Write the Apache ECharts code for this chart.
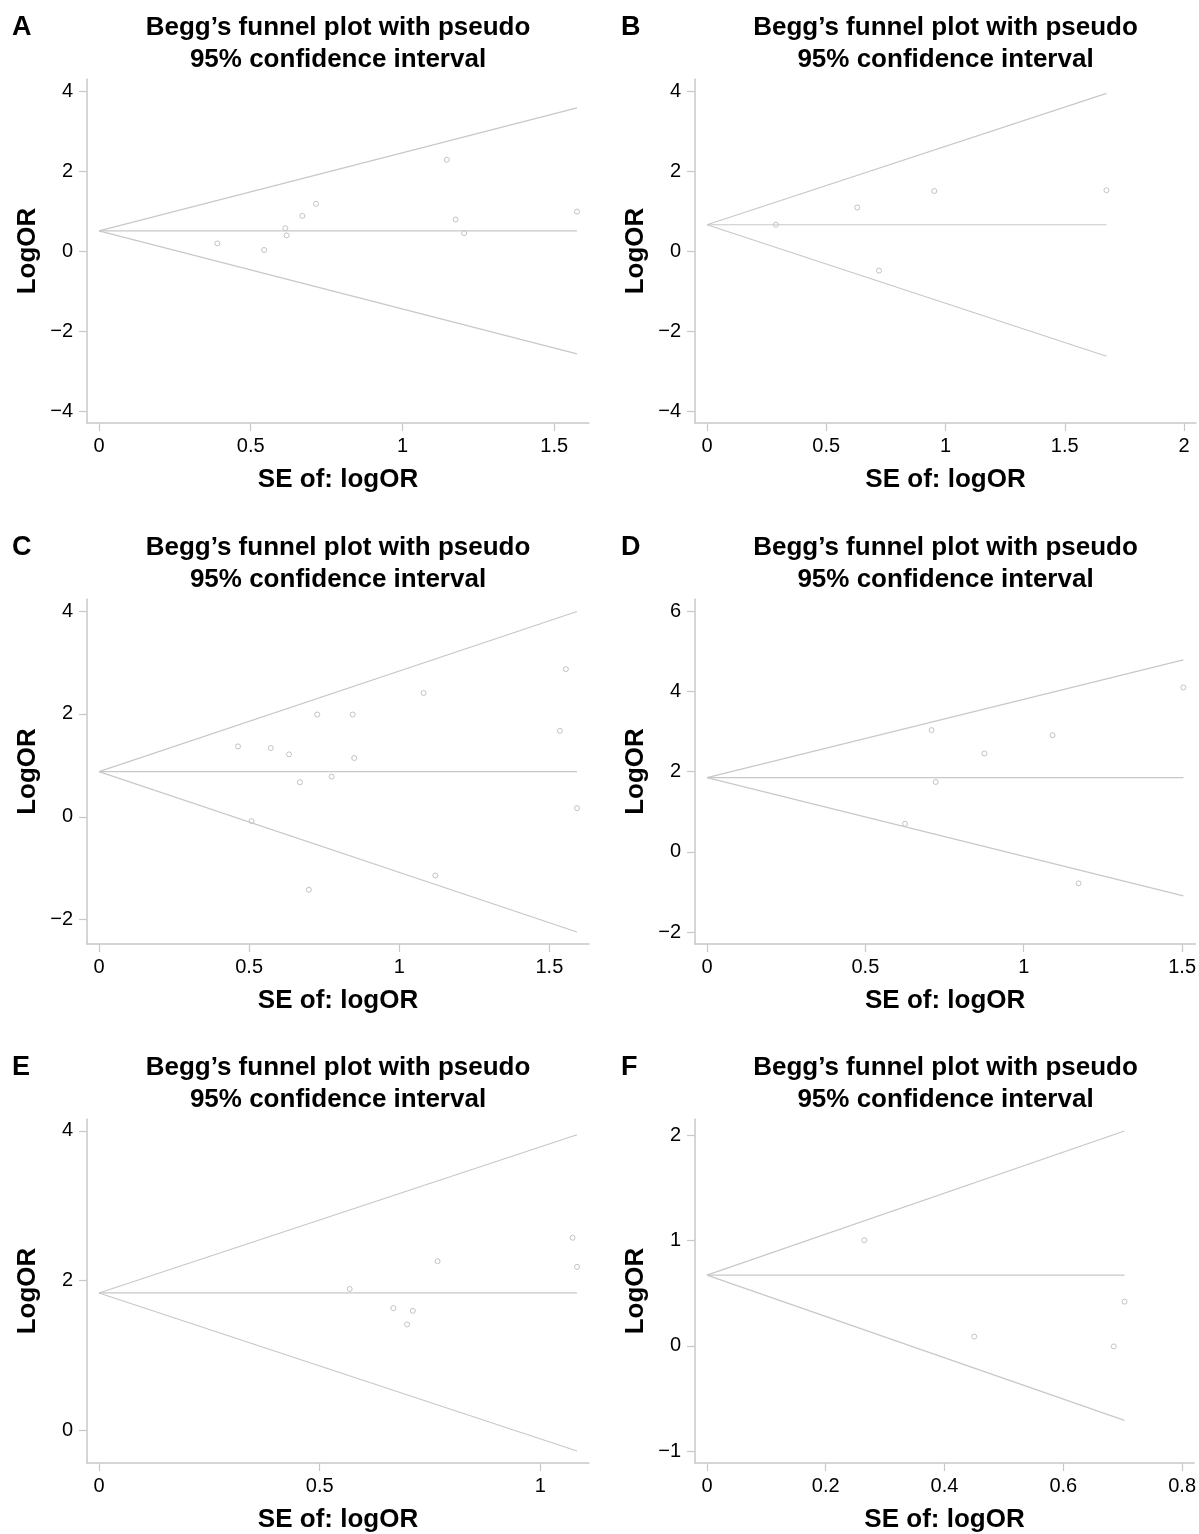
<!DOCTYPE html>
<html>
<head>
<meta charset="utf-8">
<script src="https://cdn.jsdelivr.net/npm/echarts@6/dist/echarts.min.js"></script>
<style>
html,body{margin:0;padding:0;background:#fff}
#chart{width:1199px;height:1534px}
</style>
</head>
<body>
<div id="chart"></div>
<script>
// Shared text
const FONT = '"Liberation Sans", Arial, Helvetica, sans-serif';
const panelLetters = ['A', 'B', 'C', 'D', 'E', 'F'];
const panelTitle = 'Begg’s funnel plot with pseudo\n95% confidence interval';
const xName = 'SE of: logOR';
const yName = 'LogOR';

// Panel A
const seA    = [0.390, 0.544, 0.614, 0.618, 0.670, 0.715, 1.146, 1.175, 1.203, 1.575];
const logorA = [0.19, 0.025, 0.57, 0.39, 0.877, 1.18, 2.28, 0.786, 0.447, 0.984];
const funnelA = { pooled: 0.505, seMax: 1.575, upper: 3.58, lower: -2.57 };
const xTicksA = [0, 0.5, 1, 1.5];
const yTicksA = [-4, -2, 0, 2, 4];

// Panel B
const seB    = [0.289, 0.630, 0.721, 0.953, 1.675];
const logorB = [0.656, 1.087, -0.49, 1.50, 1.52];
const funnelB = { pooled: 0.656, seMax: 1.675, upper: 3.94, lower: -2.63 };
const xTicksB = [0, 0.5, 1, 1.5, 2];
const yTicksB = [-4, -2, 0, 2, 4];

// Panel C
const seC    = [0.463, 0.508, 0.572, 0.633, 0.669, 0.699, 0.727, 0.775, 0.845, 0.850, 1.081, 1.120, 1.535, 1.555, 1.592];
const logorC = [1.368, -0.084, 1.335, 1.213, 0.671, -1.419, 1.987, 0.781, 1.987, 1.142, 2.406, -1.142, 1.671, 2.871, 0.168];
const funnelC = { pooled: 0.877, seMax: 1.592, upper: 3.99, lower: -2.24 };
const xTicksC = [0, 0.5, 1, 1.5];
const yTicksC = [-2, 0, 2, 4];

// Panel D
const seD    = [0.625, 0.709, 0.722, 0.876, 1.091, 1.173, 1.504];
const logorD = [0.696, 3.03, 1.739, 2.45, 2.905, -0.787, 4.095];
const funnelD = { pooled: 1.846, seMax: 1.504, upper: 4.78, lower: -1.098 };
const xTicksD = [0, 0.5, 1, 1.5];
const yTicksD = [-2, 0, 2, 4, 6];

// Panel E
const seE    = [0.568, 0.667, 0.698, 0.711, 0.767, 1.073, 1.083];
const logorE = [1.890, 1.634, 1.417, 1.598, 2.26, 2.574, 2.185];
const funnelE = { pooled: 1.837, seMax: 1.083, upper: 3.95, lower: -0.274 };
const xTicksE = [0, 0.5, 1];
const yTicksE = [0, 2, 4];

// Panel F
const seF    = [0.265, 0.450, 0.685, 0.703];
const logorF = [1.005, 0.089, -0.005, 0.421];
const funnelF = { pooled: 0.673, seMax: 0.703, upper: 2.044, lower: -0.709 };
const xTicksF = [0, 0.2, 0.4, 0.6, 0.8];
const yTicksF = [-1, 0, 1, 2];

const panels = [
  { se: seA, logor: logorA, funnel: funnelA, xTicks: xTicksA, yTicks: yTicksA },
  { se: seB, logor: logorB, funnel: funnelB, xTicks: xTicksB, yTicks: yTicksB },
  { se: seC, logor: logorC, funnel: funnelC, xTicks: xTicksC, yTicks: yTicksC },
  { se: seD, logor: logorD, funnel: funnelD, xTicks: xTicksD, yTicks: yTicksD },
  { se: seE, logor: logorE, funnel: funnelE, xTicks: xTicksE, yTicks: yTicksE },
  { se: seF, logor: logorF, funnel: funnelF, xTicks: xTicksF, yTicks: yTicksF }
];

// Layout of the 3x2 panel grid (plot regions in px)
const colLeft = [87, 695];
const colWidth = [502, 501];
const rowTop = [79, 599, 1119];
const rowHeight = [344, 345, 345];
const PAD = 12; // inner margin between data extent and plot-region edge

const LINE_GREY = '#c8c8c8';
const minusFmt = v => String(v).replace('-', '\u2212');

// extend [lo, hi] so that the data extent sits PAD px inside the region
function padded(lo, hi, px) {
  const u = (hi - lo) / (px - 2 * PAD);
  return [lo - PAD * u, hi + PAD * u];
}

const grids = [], xAxes = [], yAxes = [], series = [], titles = [];

panels.forEach((p, i) => {
  const col = i % 2, row = Math.floor(i / 2);
  const left = colLeft[col], top = rowTop[row];
  const w = colWidth[col], h = rowHeight[row];
  grids.push({ left: left, top: top, width: w, height: h, containLabel: false });

  const xLo = Math.min(0, ...p.xTicks);
  const xHi = Math.max(p.funnel.seMax, ...p.se, ...p.xTicks);
  const yLo = Math.min(p.funnel.lower, ...p.logor, ...p.yTicks);
  const yHi = Math.max(p.funnel.upper, ...p.logor, ...p.yTicks);
  const [xMin, xMax] = padded(xLo, xHi, w);
  const [yMin, yMax] = padded(yLo, yHi, h);

  xAxes.push({
    type: 'value', gridIndex: i, min: xMin, max: xMax,
    name: xName, nameLocation: 'middle', nameGap: 44,
    nameTextStyle: { fontFamily: FONT, fontSize: 26, fontWeight: 'bold', color: '#000' },
    axisLine: { show: true, onZero: false, lineStyle: { color: LINE_GREY, width: 1.5 } },
    axisTick: { show: true, length: 8, customValues: p.xTicks, lineStyle: { color: LINE_GREY, width: 1.2 } },
    axisLabel: { customValues: p.xTicks, margin: 13, fontFamily: FONT, fontSize: 20, color: '#000', formatter: minusFmt },
    splitLine: { show: false }
  });
  yAxes.push({
    type: 'value', gridIndex: i, min: yMin, max: yMax,
    name: yName, nameLocation: 'middle', nameGap: 46, nameRotate: 90,
    nameTextStyle: { fontFamily: FONT, fontSize: 26, fontWeight: 'bold', color: '#000' },
    axisLine: { show: true, onZero: false, lineStyle: { color: LINE_GREY, width: 1.5 } },
    axisTick: { show: true, length: 8, customValues: p.yTicks, lineStyle: { color: LINE_GREY, width: 1.2 } },
    axisLabel: { customValues: p.yTicks, margin: 14, fontFamily: FONT, fontSize: 20, color: '#000', formatter: minusFmt },
    splitLine: { show: false }
  });

  const f = p.funnel;
  const lineBase = {
    type: 'line', xAxisIndex: i, yAxisIndex: i, symbol: 'none', silent: true,
    lineStyle: { color: LINE_GREY, width: 1.2 }, animation: false
  };
  // pooled estimate and pseudo 95% limits
  series.push(Object.assign({}, lineBase, { data: [[0, f.pooled], [f.seMax, f.pooled]] }));
  series.push(Object.assign({}, lineBase, { data: [[0, f.pooled], [f.seMax, f.upper]] }));
  series.push(Object.assign({}, lineBase, { data: [[0, f.pooled], [f.seMax, f.lower]] }));
  // studies
  series.push({
    type: 'scatter', xAxisIndex: i, yAxisIndex: i, animation: false,
    symbol: 'circle', symbolSize: 5,
    itemStyle: { color: '#fff', borderColor: '#b4b4b4', borderWidth: 1 },
    data: p.se.map((s, k) => [s, p.logor[k]])
  });

  titles.push({
    text: panelTitle, left: left + w / 2, top: top - 67, textAlign: 'center', padding: 0,
    textStyle: { fontFamily: FONT, fontSize: 26, fontWeight: 'bold', color: '#000', lineHeight: 32 }
  });
  titles.push({
    text: panelLetters[i], left: col === 0 ? 12 : 621, top: top - 67, padding: 0,
    textStyle: { fontFamily: FONT, fontSize: 27, fontWeight: 'bold', color: '#000', lineHeight: 32 }
  });
});

const chart = echarts.init(document.getElementById('chart'), null, { renderer: 'canvas' });
chart.setOption({
  backgroundColor: '#fff',
  animation: false,
  title: titles,
  grid: grids,
  xAxis: xAxes,
  yAxis: yAxes,
  series: series
});
</script>
</body>
</html>
